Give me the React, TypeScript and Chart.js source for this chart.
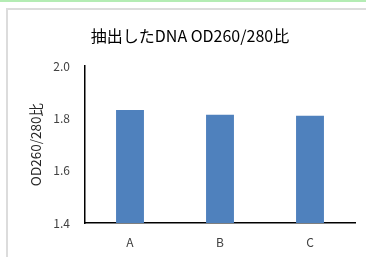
import React, { useEffect, useRef } from "react";
import { Chart, registerables } from "chart.js";
Chart.register(...registerables);

const categories = ["A", "B", "C"];
const ratios = [1.832, 1.814, 1.81];
const yTicks = [1.4, 1.6, 1.8, 2.0];
const titleText = "抽出したDNA OD260/280比";
const yTitle = "OD260/280比";

const FAMILY = "'Noto Sans CJK JP', 'Noto Sans', sans-serif";

export default function App() {
  const ref = useRef<HTMLCanvasElement>(null);
  useEffect(() => {
    document.body.style.margin = "0";
    const chart = new Chart(ref.current!, {
      type: "bar",
      data: {
        labels: categories,
        datasets: [
          {
            data: ratios,
            backgroundColor: "#4f81bd",
            barPercentage: 0.31,
            categoryPercentage: 1,
          },
        ],
      },
      options: {
        responsive: false,
        animation: false,
        layout: { padding: { left: 25, right: 11, top: 0, bottom: 0 } },
        plugins: {
          legend: { display: false },
          tooltip: { enabled: false },
          title: {
            display: true,
            text: titleText,
            color: "#000",
            font: { family: FAMILY, size: 16, weight: "normal" },
            padding: { top: 26, bottom: 21 },
          },
        },
        scales: {
          x: {
            grid: { display: false, drawTicks: false },
            border: { color: "#000", width: 1.5 },
            ticks: { color: "#404040", font: { family: FAMILY, size: 12 }, padding: 12 },
            afterFit: (s: any) => {
              s.height = 34;
            },
          },
          y: {
            min: 1.4,
            max: 2.0,
            afterBuildTicks: (s: any) => {
              s.ticks = yTicks.map((v) => ({ value: v }));
            },
            grid: { display: false, drawTicks: false },
            border: { color: "#000", width: 1.5 },
            ticks: {
              color: "#404040",
              font: { family: FAMILY, size: 12 },
              padding: 15,
              callback: (v: any) => Number(v).toFixed(1),
            },
            title: {
              display: true,
              text: yTitle,
              color: "#262626",
              font: { family: FAMILY, size: 13.5, weight: "normal" },
              padding: { top: 3, bottom: 0 },
            },
            afterFit: (s: any) => {
              s.width = 60;
            },
          },
        },
      },
    } as any);
    return () => chart.destroy();
  }, []);
  return (
    <div style={{ position: "relative", width: 366, height: 257, background: "#fff", overflow: "hidden" }}>
      <div style={{ position: "absolute", left: 0, top: 0, width: 366, height: 2, background: "#b4ecb4" }} />
      <div
        style={{
          position: "absolute",
          left: 6,
          top: 8,
          width: 366,
          height: 260,
          borderLeft: "2px solid #dcdcdc",
          borderTop: "2px solid #dcdcdc",
        }}
      />
      <canvas ref={ref} width={366} height={257} style={{ position: "absolute", left: 0, top: 0 }} />
    </div>
  );
}
